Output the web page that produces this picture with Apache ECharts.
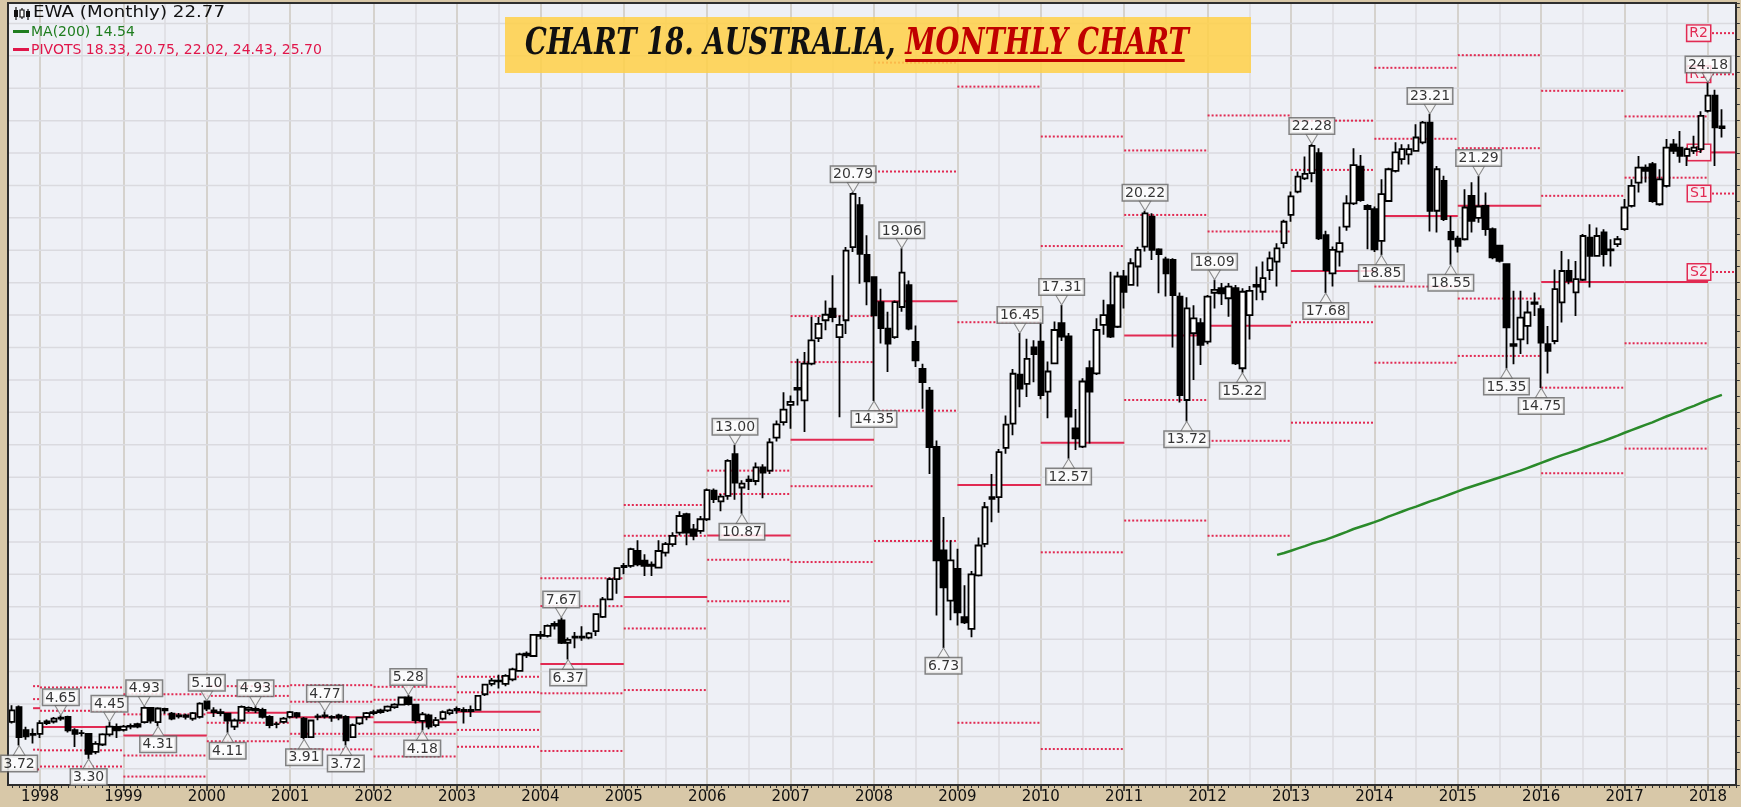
<!DOCTYPE html>
<html>
<head>
<meta charset="utf-8">
<script src="https://cdn.jsdelivr.net/npm/echarts@6/dist/echarts.min.js"></script>
<style>
  html, body { margin: 0; padding: 0; background: #d8c8a8; }
  #chart { width: 1741px; height: 807px; }
</style>
</head>
<body>
<div id="chart"></div>
<script>
// ---------------- data ----------------
// monthly bars of EWA, first bar 1997-09; each row is [open, high, low, close]
const firstBar = '1997-09';
const ohlc = [
  // 1997 Sep-Dec
  [4.45,4.96,4.40,4.80],[4.90,4.95,3.72,3.98],[4.19,4.30,3.90,4.00],[4.08,4.24,3.78,4.05],
  // 1998
  [4.08,4.50,3.95,4.41],[4.41,4.52,4.35,4.46],[4.46,4.60,4.40,4.55],[4.55,4.65,4.48,4.58],
  [4.60,4.64,4.12,4.19],[4.19,4.25,3.67,4.08],[4.10,4.20,4.00,4.10],[4.08,4.10,3.30,3.46],
  [3.52,3.85,3.45,3.77],[3.75,4.10,3.70,4.06],[4.06,4.45,4.00,4.30],[4.29,4.40,3.95,4.19],
  // 1999
  [4.20,4.35,4.15,4.30],[4.30,4.40,4.22,4.32],[4.38,4.42,4.25,4.30],[4.44,4.93,4.40,4.88],
  [4.88,4.90,4.40,4.49],[4.44,4.90,4.31,4.86],[4.85,4.88,4.70,4.80],[4.70,4.75,4.50,4.55],
  [4.62,4.72,4.55,4.65],[4.60,4.70,4.52,4.65],[4.55,4.75,4.48,4.72],[4.60,5.05,4.55,5.01],
  // 2000
  [5.08,5.10,4.78,4.86],[4.80,4.90,4.60,4.75],[4.75,4.85,4.62,4.72],[4.70,4.72,4.11,4.49],
  [4.30,4.55,4.20,4.49],[4.49,4.95,4.45,4.91],[4.82,4.92,4.75,4.88],[4.85,4.93,4.72,4.80],
  [4.82,4.88,4.55,4.60],[4.60,4.65,4.25,4.35],[4.38,4.45,4.25,4.38],[4.45,4.60,4.40,4.55],
  // 2001
  [4.60,4.78,4.55,4.75],[4.72,4.75,4.55,4.62],[4.55,4.60,3.91,3.98],[3.98,4.52,3.95,4.49],
  [4.60,4.70,4.50,4.62],[4.62,4.77,4.55,4.65],[4.60,4.65,4.45,4.58],[4.65,4.70,4.50,4.58],
  [4.60,4.65,3.72,3.88],[3.98,4.40,3.95,4.35],[4.40,4.60,4.35,4.58],[4.60,4.75,4.50,4.72],
  // 2002
  [4.72,4.82,4.65,4.75],[4.75,4.85,4.70,4.80],[4.80,4.95,4.75,4.92],[4.90,5.02,4.85,4.98],
  [4.98,5.22,4.95,5.20],[5.20,5.28,4.95,5.00],[4.98,5.00,4.40,4.50],[4.48,4.75,4.18,4.68],
  [4.65,4.70,4.22,4.30],[4.35,4.60,4.28,4.50],[4.55,4.80,4.50,4.75],[4.72,4.85,4.65,4.80],
  // 2003
  [4.80,4.92,4.70,4.85],[4.82,4.90,4.40,4.78],[4.78,4.95,4.60,4.82],[4.82,5.28,4.80,5.25],
  [5.30,5.62,5.25,5.60],[5.62,5.80,5.55,5.72],[5.70,5.90,5.48,5.72],[5.62,5.92,5.55,5.87],
  [5.76,6.12,5.70,6.07],[6.02,6.58,6.00,6.53],[6.50,6.62,6.42,6.55],[6.48,7.15,6.45,7.13],
  // 2004
  [7.10,7.25,7.00,7.13],[7.10,7.45,7.05,7.41],[7.42,7.55,7.30,7.47],[7.58,7.67,6.85,6.89],
  [6.89,7.05,6.37,6.98],[7.05,7.22,6.72,7.08],[7.08,7.40,6.95,7.05],[7.05,7.22,7.00,7.18],
  [7.25,7.80,7.10,7.77],[7.69,8.30,7.65,8.23],[8.23,8.90,8.20,8.85],[8.85,9.22,8.40,9.19],
  // 2005
  [9.22,9.35,9.00,9.26],[9.26,9.82,9.20,9.78],[9.72,10.05,9.25,9.31],[9.42,9.62,8.95,9.26],
  [9.26,9.40,8.95,9.30],[9.21,10.05,9.18,9.72],[9.67,10.00,9.55,9.93],[9.93,10.30,9.85,10.19],
  [10.29,10.95,10.20,10.80],[10.86,10.90,9.90,10.29],[10.39,10.55,10.05,10.19],[10.34,10.80,10.25,10.70],
  // 2006
  [10.70,11.65,10.65,11.60],[11.58,11.65,11.20,11.32],[11.25,11.48,10.95,11.40],[11.42,12.55,11.30,12.50],
  [12.71,13.00,11.30,11.83],[11.68,11.90,10.87,11.80],[11.88,12.05,11.60,11.92],[11.88,12.45,11.75,12.30],
  [12.30,12.40,11.35,12.14],[12.20,13.20,12.10,13.07],[13.22,13.75,13.10,13.63],[13.70,14.62,13.59,14.08],
  // 2007
  [14.23,14.52,13.49,14.32],[14.70,15.65,14.21,14.75],[14.37,15.86,13.39,15.50],[15.50,16.94,15.45,16.22],
  [16.29,16.94,16.17,16.73],[16.84,17.45,16.53,17.01],[17.20,18.23,16.78,16.94],[16.32,16.99,13.85,16.70],
  [16.84,19.10,16.42,18.99],[19.10,20.79,18.95,20.74],[20.39,20.64,17.97,18.89],[18.86,19.46,17.30,18.04],
  // 2008
  [18.17,18.20,14.35,16.99],[17.40,17.81,16.12,16.60],[16.58,17.10,15.24,16.12],[16.32,17.45,16.27,17.40],
  [17.25,19.06,17.10,18.31],[17.92,18.07,16.53,16.58],[16.17,16.68,15.40,15.60],[15.34,15.50,14.11,14.93],
  [14.67,14.78,12.10,12.93],[12.93,13.13,7.73,9.43],[9.74,10.77,6.73,8.60],[8.19,10.05,7.58,9.43],
  // 2009
  [9.17,9.79,7.42,7.83],[7.68,8.66,7.47,7.52],[7.32,9.10,7.06,9.00],[8.97,10.14,8.93,9.89],
  [9.94,11.23,9.84,11.07],[11.38,12.10,10.61,11.33],[11.38,12.87,10.90,12.77],[12.90,13.90,12.72,13.62],
  [13.65,15.34,13.29,15.19],[15.16,16.45,14.16,14.73],[14.88,16.27,14.47,15.65],[16.00,16.22,14.93,15.80],
  // 2010
  [16.18,16.89,14.40,14.53],[14.64,15.57,13.82,15.26],[15.51,16.80,15.50,16.54],[16.75,17.31,16.20,16.34],
  [16.34,16.45,12.57,13.87],[13.50,14.10,12.84,13.20],[12.94,15.05,12.90,14.95],[15.36,15.60,13.04,14.64],
  [15.20,16.90,15.15,16.54],[16.70,17.47,16.39,17.00],[17.31,18.34,16.29,16.34],[16.64,18.34,16.60,18.19],
  // 2011
  [18.19,18.39,17.20,17.72],[17.93,18.75,17.93,18.60],[18.50,19.11,17.88,19.01],[19.11,20.22,18.96,20.14],
  [20.04,20.14,18.70,19.01],[19.03,19.06,17.67,18.88],[18.72,18.80,17.57,18.29],[18.70,18.75,16.00,17.62],
  [17.57,17.70,14.30,14.53],[14.38,17.55,13.72,17.21],[16.44,17.30,15.00,16.90],[16.75,16.90,15.46,16.08],
  // 2012
  [16.18,17.62,16.10,17.57],[17.69,18.09,17.20,17.78],[17.83,17.99,17.31,17.67],[17.52,17.99,16.95,17.88],
  [17.83,17.93,15.46,15.51],[15.36,17.83,15.22,17.72],[17.00,17.90,16.25,17.75],[17.88,18.50,17.46,17.93],
  [17.72,18.65,17.46,18.14],[18.39,18.96,18.08,18.75],[18.65,19.22,17.88,19.06],[19.22,19.94,19.06,19.88],
  // 2013
  [20.09,20.81,19.88,20.66],[20.81,21.43,20.76,21.27],[21.22,21.89,21.17,21.36],[21.38,22.28,21.10,22.22],
  [22.00,22.15,19.32,19.37],[19.47,19.60,17.68,18.39],[18.29,19.12,17.88,19.01],[18.96,19.73,18.50,19.22],
  [19.73,20.70,19.60,20.45],[20.45,22.15,20.40,21.63],[21.58,21.94,20.50,20.55],[20.37,20.42,19.03,20.27],
  // 2014
  [20.27,20.35,18.95,19.03],[19.29,21.19,18.85,20.73],[20.52,21.55,20.50,21.50],[21.45,22.33,21.40,22.02],
  [21.81,22.27,21.65,22.12],[21.96,22.27,21.65,22.12],[22.07,22.89,22.07,22.48],[22.33,22.99,22.27,22.94],
  [22.94,23.21,19.58,20.22],[20.22,21.60,19.55,21.50],[21.14,21.30,19.90,19.96],[19.57,20.06,18.55,19.34],
  // 2015
  [19.36,19.45,18.93,19.14],[19.34,20.88,19.30,20.32],[20.68,21.10,19.55,19.91],[20.00,21.29,19.85,20.35],
  [20.37,20.78,19.45,19.65],[19.65,19.70,18.72,18.78],[19.14,19.14,18.62,18.67],[18.57,18.60,15.35,16.62],
  [16.10,17.75,15.48,16.05],[16.25,17.75,15.80,16.92],[16.67,17.44,16.10,17.08],[17.35,17.70,16.97,17.39],
  // 2016
  [17.18,17.30,14.75,16.15],[16.10,16.66,15.20,15.90],[16.20,18.41,16.10,17.80],[17.39,18.98,16.77,18.36],
  [18.36,18.72,17.95,18.06],[17.70,18.67,16.97,18.11],[18.09,19.50,18.05,19.44],[19.39,19.80,17.85,18.83],
  [18.83,19.70,18.80,19.44],[19.55,19.65,18.50,18.88],[19.00,19.34,18.50,19.03],[19.19,19.44,19.10,19.34],
  // 2017
  [19.65,20.58,19.60,20.32],[20.37,21.19,20.32,20.99],[21.09,21.91,20.78,21.55],[21.55,21.65,21.09,21.45],
  [21.66,21.72,20.47,20.52],[20.42,21.50,20.37,21.19],[20.99,22.43,20.94,22.17],[22.27,22.43,21.97,22.07],
  [22.17,22.68,21.70,21.91],[21.91,22.17,21.60,22.12],[22.07,22.53,21.97,22.17],[22.12,23.29,22.00,23.15],
  // 2018 Jan-Mar
  [23.30,24.18,23.25,23.77],[23.77,23.95,21.60,22.79],[22.82,23.35,22.48,22.77]
];

// 200-month moving average, first value at 2012-11
const maStart = '2012-11';
const ma200 = [
  9.60, 9.66,
  9.73, 9.80, 9.87, 9.95, 10.01, 10.07, 10.15, 10.23, 10.31, 10.40, 10.47, 10.54,
  10.61, 10.69, 10.78, 10.86, 10.94, 11.02, 11.09, 11.17, 11.25, 11.32, 11.40, 11.48,
  11.56, 11.64, 11.71, 11.78, 11.85, 11.92, 11.99, 12.06, 12.13, 12.20, 12.28, 12.36,
  12.44, 12.52, 12.60, 12.68, 12.75, 12.82, 12.90, 12.98, 13.05, 13.12, 13.20, 13.28,
  13.37, 13.45, 13.53, 13.61, 13.69, 13.78, 13.87, 13.95, 14.03, 14.12, 14.20, 14.29,
  14.38, 14.46, 14.54
];

// yearly pivot levels
const pivotYears = [1997,1998,1999,2000,2001,2002,2003,2004,2005,2006,2007,2008,2009,2010,2011,2012,2013,2014,2015,2016,2017,2018];
const pivotR2 = [5.55,5.51,5.30,5.55,5.58,5.53,5.84,8.88,11.14,12.20,16.97,24.79,24.05,22.51,22.08,23.16,23.00,24.63,25.02,23.92,23.13,25.70];
const pivotR1 = [5.15,4.79,4.68,5.25,5.07,5.13,5.36,8.02,10.19,11.48,15.55,21.43,16.78,19.13,20.09,19.58,21.48,22.44,22.15,20.68,21.24,24.43];
const pivotP  = [4.87,4.29,4.03,4.73,4.59,4.44,4.76,6.23,8.30,10.20,13.15,17.43,11.76,13.06,16.37,16.67,18.36,20.06,20.37,18.02,18.02,22.02];
const pivotS1 = [3.59,3.57,3.41,4.42,4.08,4.08,4.20,5.33,7.33,9.45,11.72,14.05,4.42,9.68,14.38,13.12,16.78,17.88,17.51,14.76,16.13,20.75];
const pivotS2 = [2.98,3.07,2.76,3.85,3.60,3.38,3.68,3.55,5.43,8.17,9.38,10.03,-0.55,3.61,10.66,10.19,13.68,15.53,15.74,12.12,12.88,18.33];
const levelNames = ['R2','R1','P','S1','S2'];

// swing highs / lows that carry value callouts
const peakMonths = ['1998-04','1998-11','1999-04','2000-01','2000-08','2001-06','2002-06','2004-04','2006-05',
  '2007-10','2008-05','2009-10','2010-04','2011-04','2012-02','2013-04','2014-09','2015-04','2018-01'];
const troughMonths = ['1997-10','1998-08','1999-06','2000-04','2001-03','2001-09','2002-08','2004-05','2006-06',
  '2008-01','2008-11','2010-05','2011-10','2012-06','2013-06','2014-02','2014-12','2015-08','2016-01'];

// horizontal grid levels
const gridLevels = [3,4,5,6,7,8,9,10,11,12,13,14,15,16,17,18,19,20,21,22,23,24,25,26];

// ---------------- derived tables ----------------
const months = [];
for (let y = 1997, mo = 8; !(y === 2018 && mo === 6);) {
  months.push(y + '-' + String(mo).padStart(2, '0'));
  mo++; if (mo > 12) { mo = 1; y++; }
}
const idx = m => months.indexOf(m);
const bar0 = idx(firstBar);
const barAt = m => ohlc[idx(m) - bar0];

const candleData = months.map((m, i) => {
  const r = ohlc[i - bar0];
  return r ? [r[0], r[3], r[2], r[1]] : '-';
});
const ma0 = idx(maStart);
const maData = months.map((m, i) => (i >= ma0 && i - ma0 < ma200.length) ? ma200[i - ma0] : '-');

const levelArrays = [pivotR2, pivotR1, pivotP, pivotS1, pivotS2];
const pivotRows = [];
pivotYears.forEach((yr, k) => {
  const start = yr === 1997 ? idx('1997-12') : idx(yr + '-01');
  const end = yr === 2018 ? months.length - 1 : idx((yr + 1) + '-01');
  levelArrays.forEach((arr, li) => {
    pivotRows.push([start, end, arr[k], li === 2 ? 1 : 0, li, yr === 2018 ? 1 : 0]);
  });
});

const peakData = peakMonths.map(m => [m, barAt(m)[1]]);
const troughData = troughMonths.map(m => [m, barAt(m)[2]]);

const lastClose = ohlc[ohlc.length - 1][3];
const lastMA = ma200[ma200.length - 1];
const k18 = pivotYears.length - 1;
const pivotText = [pivotS2[k18], pivotS1[k18], pivotP[k18], pivotR1[k18], pivotR2[k18]].map(v => v.toFixed(2)).join(', ');

// ---------------- styling helpers ----------------
const LVL = '#e12a52';
const TAN = '#d8c8a8';
const measureCtx = document.createElement('canvas').getContext('2d');
function textWidth(font, s) { measureCtx.font = font; return measureCtx.measureText(s).width; }

const titleFont = 'italic bold 38px "DejaVu Serif", serif';
const titleA = 'CHART 18. AUSTRALIA, ';
const titleB = 'MONTHLY CHART';
const wA = textWidth(titleFont, titleA);
const wB = textWidth(titleFont, titleB);
const titleScale = 664 / (wA + wB);

const legFont1 = '15px "DejaVu Sans"';
const legText1 = 'EWA (Monthly) ' + lastClose.toFixed(2);
const legScale1 = 192 / textWidth(legFont1, legText1);

const tagFont = '14px "DejaVu Sans"';

const isJan = (i, v) => v.endsWith('-01');
const isJul = (i, v) => v.endsWith('-07');

// ---------------- chart ----------------
const chart = echarts.init(document.getElementById('chart'), null, { renderer: 'canvas' });

const calloutLabel = {
  show: true, distance: 0, formatter: p => p.value[1].toFixed(2),
  color: '#000', fontSize: 14, fontFamily: 'DejaVu Sans', backgroundColor: '#ffffff',
  borderColor: '#666', borderWidth: 1.5, padding: [1, 2, 0, 2]
};

const option = {
  backgroundColor: TAN,
  animation: false,
  grid: { left: 5.25, right: 5.2, top: 3, bottom: 22, show: true, backgroundColor: '#eef0f6', borderWidth: 0 },
  xAxis: [
    {
      type: 'category', data: months, boundaryGap: false,
      axisLine: { show: false },
      axisTick: { show: true, interval: isJan, length: 6, lineStyle: { color: '#222', width: 1.5 } },
      axisLabel: { interval: isJan, formatter: v => v.slice(0, 4), color: '#111', fontSize: 15, fontFamily: 'DejaVu Sans', margin: 5 },
      splitLine: { show: true, interval: isJan, lineStyle: { color: '#cdc9bf', width: 1.5 } }
    },
    {
      type: 'category', data: months, boundaryGap: false, position: 'bottom',
      axisLine: { show: false },
      axisTick: { show: true, interval: 0, length: 3, lineStyle: { color: '#333', width: 1 } },
      axisLabel: { show: false },
      splitLine: { show: true, interval: isJul, lineStyle: { color: '#dcdce0', width: 1.5 } }
    }
  ],
  yAxis: {
    type: 'value', min: 2.5, max: 26.63, interval: 0.5, position: 'right', scale: true,
    axisLine: { show: false },
    axisTick: { show: true, length: 4, lineStyle: { color: '#333' } },
    axisLabel: { show: false },
    splitLine: { show: false }
  },
  series: [
    {
      // horizontal price grid
      type: 'custom', z: 1, silent: true,
      data: gridLevels.map(v => [v]),
      encode: { y: 0 },
      renderItem(params, api) {
        const y = api.coord([0, api.value(0)])[1];
        const cs = params.coordSys;
        return { type: 'line', shape: { x1: cs.x, y1: y, x2: cs.x + cs.width, y2: y },
                 style: { stroke: '#dadadf', lineWidth: 1.5 } };
      }
    },
    {
      // yearly pivot levels
      type: 'custom', z: 2, silent: true, clip: true,
      data: pivotRows,
      encode: { x: [0, 1], y: 2 },
      renderItem(params, api) {
        const a = api.coord([api.value(0), api.value(2)]);
        const b = api.coord([api.value(1), api.value(2)]);
        const solid = api.value(3) === 1;
        const line = { type: 'line', shape: { x1: a[0], y1: a[1], x2: b[0], y2: b[1] },
          style: { stroke: LVL, lineWidth: 2, lineDash: solid ? null : [2, 2] } };
        if (api.value(5) !== 1) return line;
        const name = levelNames[api.value(4)];
        const padX = Math.max(2, (22 - textWidth(tagFont, name)) / 2);
        return { type: 'group', children: [line, {
          type: 'text', x: a[0] + 2, y: a[1],
          style: { text: name, align: 'right', verticalAlign: 'middle', fill: LVL, font: tagFont,
                   backgroundColor: '#f5eef3', borderColor: LVL, borderWidth: 1.5, padding: [1, padX, 0, padX] }
        }] };
      }
    },
    {
      name: 'MA(200)', type: 'line', z: 3, data: maData, showSymbol: false, symbol: 'none',
      lineStyle: { color: '#2a8a2a', width: 2.5 }, silent: true
    },
    {
      name: 'EWA', type: 'candlestick', z: 4, data: candleData, barWidth: 6,
      itemStyle: { color: '#ffffff', color0: '#000000', borderColor: '#000000', borderColor0: '#000000',
                   borderColorDoji: '#000000', borderWidth: 1.8 }
    },
    {
      // callouts on swing highs
      type: 'scatter', z: 10, data: peakData,
      symbol: 'path://M0,0L12,0L6,10Z', symbolSize: [12, 10], symbolOffset: [0, -5],
      itemStyle: { color: '#f2f2f2', borderColor: '#707070', borderWidth: 1 },
      label: Object.assign({ position: 'top' }, calloutLabel)
    },
    {
      // callouts on swing lows
      type: 'scatter', z: 10, data: troughData,
      symbol: 'path://M6,0L12,10L0,10Z', symbolSize: [12, 10], symbolOffset: [0, 5],
      itemStyle: { color: '#f2f2f2', borderColor: '#707070', borderWidth: 1 },
      label: Object.assign({ position: 'bottom' }, calloutLabel)
    }
  ],
  graphic: [
    // left strip of the frame
    { type: 'rect', z: 5, silent: true, shape: { x: 0, y: 0, width: 7, height: 807 }, style: { fill: TAN } },
    // plot border
    { type: 'rect', z: 6, silent: true, shape: { x: 8, y: 3, width: 1728, height: 782 },
      style: { fill: 'none', stroke: '#2e2e2e', lineWidth: 2 } },
    // title banner
    { type: 'rect', z: 7, silent: true, shape: { x: 505, y: 17, width: 746, height: 56 },
      style: { fill: 'rgba(255,208,72,0.86)' } },
    { type: 'group', z: 8, x: 525, y: 0, scaleX: titleScale, silent: true, children: [
      { type: 'text', z: 8, x: 0, y: 44, style: { text: titleA, font: titleFont, fill: '#111', verticalAlign: 'middle' } },
      { type: 'text', z: 8, x: wA, y: 44, style: { text: titleB, font: titleFont, fill: '#c00000', verticalAlign: 'middle' } },
      { type: 'rect', z: 8, shape: { x: wA, y: 59, width: wB - 6, height: 3 }, style: { fill: '#c00000' } }
    ] },
    // legend: candle glyph
    { type: 'group', z: 8, x: 13, y: 7, silent: true, children: [
      { type: 'line', z: 8, shape: { x1: 3, y1: 0, x2: 3, y2: 13 }, style: { stroke: '#111', lineWidth: 1.2 } },
      { type: 'rect', z: 8, shape: { x: 1, y: 3, width: 4, height: 7 }, style: { fill: '#111' } },
      { type: 'line', z: 8, shape: { x1: 9, y1: 1, x2: 9, y2: 12 }, style: { stroke: '#111', lineWidth: 1.2 } },
      { type: 'rect', z: 8, shape: { x: 7, y: 3, width: 4, height: 7 }, style: { fill: '#fff', stroke: '#111', lineWidth: 1.2 } },
      { type: 'line', z: 8, shape: { x1: 15, y1: 2, x2: 15, y2: 13 }, style: { stroke: '#111', lineWidth: 1.2 } },
      { type: 'rect', z: 8, shape: { x: 13, y: 4, width: 4, height: 6 }, style: { fill: '#111' } }
    ] },
    { type: 'group', z: 8, x: 33, y: 0, scaleX: legScale1, silent: true, children: [
      { type: 'text', z: 8, x: 0, y: 13.5, style: { text: legText1, font: legFont1, fill: '#111', verticalAlign: 'middle' } }
    ] },
    { type: 'rect', z: 8, silent: true, shape: { x: 13, y: 30, width: 16, height: 3 }, style: { fill: '#1f7d1f' } },
    { type: 'text', z: 8, silent: true, x: 31, y: 32, style: { text: 'MA(200) ' + lastMA.toFixed(2), font: '14px "DejaVu Sans"', fill: '#1f7d1f', verticalAlign: 'middle' } },
    { type: 'rect', z: 8, silent: true, shape: { x: 13, y: 48, width: 16, height: 3 }, style: { fill: '#e0164a' } },
    { type: 'text', z: 8, silent: true, x: 31, y: 50.5, style: { text: 'PIVOTS ' + pivotText, font: '14px "DejaVu Sans"', fill: '#e0164a', verticalAlign: 'middle' } }
  ]
};

chart.setOption(option);
</script>
</body>
</html>
